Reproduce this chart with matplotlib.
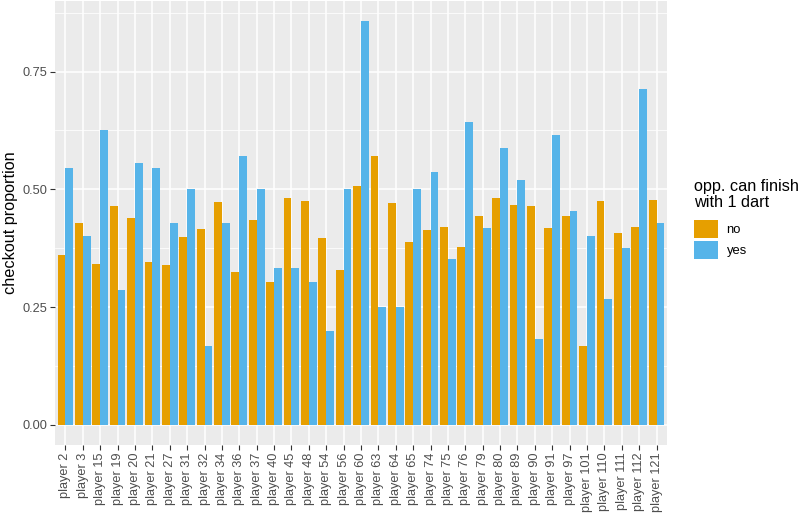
import matplotlib
matplotlib.use("Agg")
import matplotlib.pyplot as plt
import numpy as np

players = ["player 2", "player 3", "player 15", "player 19", "player 20", "player 21",
           "player 27", "player 31", "player 32", "player 34", "player 36", "player 37",
           "player 40", "player 45", "player 48", "player 54", "player 56", "player 60",
           "player 63", "player 64", "player 65", "player 74", "player 75", "player 76",
           "player 79", "player 80", "player 89", "player 90", "player 91", "player 97",
           "player 101", "player 110", "player 111", "player 112", "player 121"]

no_vals = [0.360, 0.429, 0.341, 0.465, 0.440, 0.345, 0.339, 0.398, 0.416, 0.474,
           0.324, 0.435, 0.304, 0.482, 0.476, 0.397, 0.328, 0.507, 0.571, 0.471,
           0.388, 0.413, 0.419, 0.378, 0.444, 0.481, 0.467, 0.465, 0.417, 0.444,
           0.167, 0.475, 0.408, 0.419, 0.478]

yes_vals = [0.545, 0.400, 0.625, 0.286, 0.556, 0.545, 0.429, 0.500, 0.167, 0.429,
            0.571, 0.500, 0.333, 0.333, 0.304, 0.200, 0.500, 0.857, 0.250, 0.250,
            0.500, 0.537, 0.353, 0.643, 0.417, 0.588, 0.520, 0.182, 0.615, 0.455,
            0.400, 0.267, 0.375, 0.714, 0.429]

y_ticks = [0.0, 0.25, 0.5, 0.75]
y_ticklabels = ["0.00", "0.25", "0.50", "0.75"]
legend_labels = ["no", "yes"]
legend_title = "opp. can finish\nwith 1 dart"
y_label = "checkout proportion"

C_NO = "#E69F00"
C_YES = "#56B4E9"

plt.rcParams['font.family'] = ['Liberation Sans', 'DejaVu Sans']

W, H = 800, 516
fig = plt.figure(figsize=(W / 100, H / 100), dpi=100)
L, R, T, B = 55, 667, 1, 445
ax = fig.add_axes([L / W, 1 - B / H, (R - L) / W, (B - T) / H])
ax.set_facecolor("#EBEBEB")

n = len(players)
x = np.arange(n)
bw = 0.45
ax.bar(x - bw / 2, no_vals, width=bw, color=C_NO, label=legend_labels[0], zorder=3)
ax.bar(x + bw / 2, yes_vals, width=bw, color=C_YES, label=legend_labels[1], zorder=3)

ymax = max(max(no_vals), max(yes_vals))
ax.set_ylim(-0.05 * ymax, ymax * 1.05)
ax.set_xlim(-0.6, n - 1 + 0.6)

for yv in [0.125, 0.375, 0.625, 0.875]:
    ax.axhline(yv, color="white", lw=0.55, zorder=1)
for yv in y_ticks:
    ax.axhline(yv, color="white", lw=1.1, zorder=1)
for xv in x:
    ax.axvline(xv, color="white", lw=1.1, zorder=1)

ax.set_yticks(y_ticks)
ax.set_yticklabels(y_ticklabels, fontsize=9.2, color="#4D4D4D")
ax.set_xticks(x)
ax.set_xticklabels(players, rotation=90, fontsize=9.2, color="#4D4D4D", va="top", ha="center")
ax.tick_params(axis="both", length=3.5, width=0.8, color="#333333", pad=2)
for s in ax.spines.values():
    s.set_visible(False)

ax.set_ylabel(y_label, fontsize=11.7, color="black", labelpad=3)

# legend title
fig.text(694 / W, 1 - 179 / H, legend_title, fontsize=11.7, ha="left", va="top",
         linespacing=1.05, color="black")

leg = ax.legend(loc="upper left",
                bbox_to_anchor=(694 / W, 1 - 220 / H), bbox_transform=fig.transFigure,
                frameon=False, fontsize=9.4,
                handlelength=1.8, handleheight=1.78, handletextpad=0.7,
                labelspacing=0.17, borderpad=0, borderaxespad=0)

fig.savefig("out.png", dpi=100)
